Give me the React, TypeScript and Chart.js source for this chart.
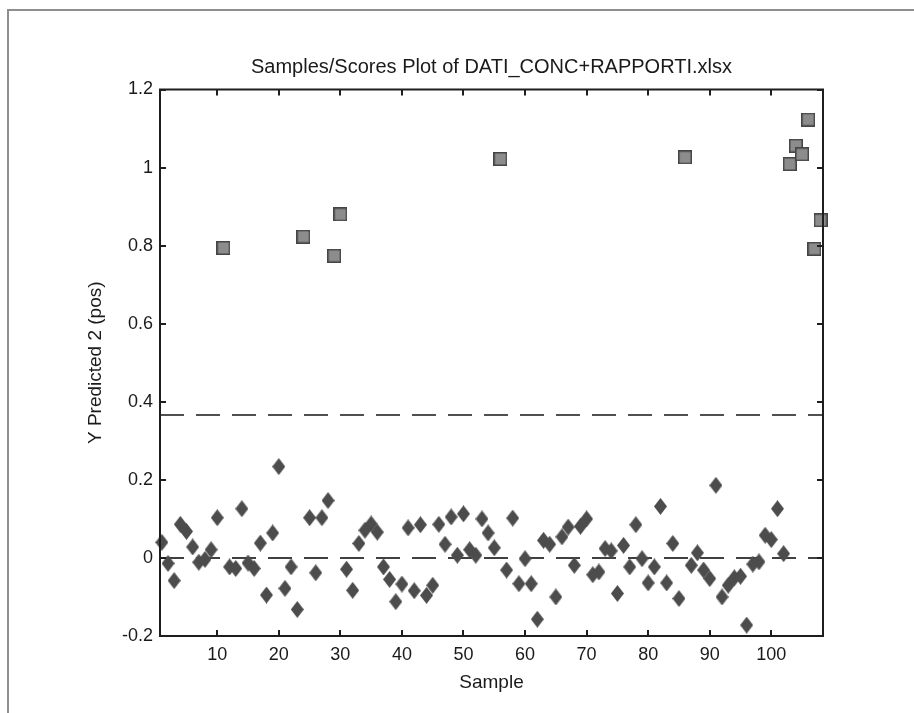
import React, { useEffect, useRef } from "react";
import { Chart, registerables } from "chart.js";

Chart.register(...registerables);

const TITLE = "Samples/Scores Plot of DATI_CONC+RAPPORTI.xlsx";
const X_LABEL = "Sample";
const Y_LABEL = "Y Predicted 2 (pos)";

const X_TICKS = [10, 20, 30, 40, 50, 60, 70, 80, 90, 100];
const Y_TICKS = [-0.2, 0, 0.2, 0.4, 0.6, 0.8, 1.0, 1.2];
const X_MIN = 0.7;
const X_MAX = 108.4;
const Y_MIN = -0.2;
const Y_MAX = 1.2;

// Class 1 samples (diamonds)
const class1Samples = [
  1, 2, 3, 4, 5, 6, 7, 8, 9, 10, 12, 13, 14, 15, 16, 17, 18, 19, 20, 21, 22, 23,
  25, 26, 27, 28, 31, 32, 33, 34, 35, 36, 37, 38, 39, 40, 41, 42, 43, 44, 45, 46,
  47, 48, 49, 50, 51, 52, 53, 54, 55, 57, 58, 59, 60, 61, 62, 63, 64, 65, 66, 67,
  68, 69, 70, 71, 72, 73, 74, 75, 76, 77, 78, 79, 80, 81, 82, 83, 84, 85, 87, 88,
  89, 90, 91, 92, 93, 94, 95, 96, 97, 98, 99, 100, 101, 102,
];
const class1Values = [
  0.04, -0.014, -0.058, 0.086, 0.068, 0.028, -0.011, -0.004, 0.021, 0.103, -0.023, -0.027, 0.126, -0.013, -0.027, 0.038, -0.095, 0.064, 0.234, -0.078, -0.023, -0.132,
  0.103, -0.038, 0.103, 0.147, -0.029, -0.083, 0.037, 0.071, 0.087, 0.066, -0.023, -0.055, -0.112, -0.067, 0.077, -0.084, 0.085, -0.096, -0.07, 0.086,
  0.035, 0.105, 0.007, 0.113, 0.021, 0.007, 0.1, 0.064, 0.026, -0.031, 0.102, -0.066, -0.002, -0.066, -0.157, 0.045, 0.035, -0.1, 0.054, 0.079,
  -0.019, 0.081, 0.1, -0.043, -0.036, 0.024, 0.018, -0.091, 0.032, -0.023, 0.085, -0.002, -0.064, -0.023, 0.132, -0.064, 0.037, -0.104, -0.019, 0.013,
  -0.031, -0.053, 0.186, -0.1, -0.07, -0.051, -0.047, -0.172, -0.016, -0.01, 0.058, 0.047, 0.126, 0.011,
];

// Class 2 samples (squares)
const class2Samples = [11, 24, 29, 30, 56, 86, 103, 104, 105, 106, 107, 108];
const class2Values = [0.794, 0.823, 0.774, 0.88, 1.022, 1.026, 1.009, 1.056, 1.034, 1.123, 0.792, 0.865];

const THRESHOLD = 0.366;
const ZERO_LEVEL = 0;

const FONT = "'Liberation Sans', Arial, sans-serif";
const TEXT_COLOR = "#1a1a1a";

function makeDiamond(): HTMLCanvasElement {
  const c = document.createElement("canvas");
  const w = 13;
  const h = 17;
  c.width = w;
  c.height = h;
  const g = c.getContext("2d")!;
  g.beginPath();
  g.moveTo(w / 2, 0);
  g.lineTo(w, h / 2);
  g.lineTo(w / 2, h);
  g.lineTo(0, h / 2);
  g.closePath();
  g.fillStyle = "#4c4c4c";
  g.fill();
  return c;
}

function makeSquare(): HTMLCanvasElement {
  const c = document.createElement("canvas");
  const s = 14;
  c.width = s;
  c.height = s;
  const g = c.getContext("2d")!;
  g.fillStyle = "#8c8c8c";
  g.fillRect(0, 0, s, s);
  g.strokeStyle = "#454545";
  g.lineWidth = 1.5;
  g.strokeRect(0.75, 0.75, s - 1.5, s - 1.5);
  return c;
}

const framePlugin = {
  id: "matlabFrame",
  beforeDraw(chart: any) {
    const ctx = chart.ctx;
    ctx.save();
    ctx.fillStyle = "#ffffff";
    ctx.fillRect(0, 0, chart.width, chart.height);
    ctx.strokeStyle = "#8e8e8e";
    ctx.lineWidth = 2;
    ctx.beginPath();
    ctx.moveTo(8, chart.height);
    ctx.lineTo(8, 10);
    ctx.lineTo(chart.width, 10);
    ctx.stroke();
    ctx.restore();
  },
  afterDatasetsDraw(chart: any) {
    const { ctx, chartArea } = chart;
    const { left, right, top, bottom } = chartArea;
    const xs = chart.scales.x;
    const ys = chart.scales.y;
    const tl = 6;
    ctx.save();
    ctx.strokeStyle = "#1e1e1e";
    ctx.lineWidth = 2;
    ctx.strokeRect(left, top, right - left, bottom - top);
    ctx.beginPath();
    for (const v of X_TICKS) {
      const px = Math.round(xs.getPixelForValue(v));
      ctx.moveTo(px, bottom);
      ctx.lineTo(px, bottom - tl);
      ctx.moveTo(px, top);
      ctx.lineTo(px, top + tl);
    }
    for (const v of Y_TICKS) {
      const py = Math.round(ys.getPixelForValue(v));
      ctx.moveTo(left, py);
      ctx.lineTo(left + tl, py);
      ctx.moveTo(right, py);
      ctx.lineTo(right - tl, py);
    }
    ctx.stroke();
    ctx.restore();
  },
};

export default function App() {
  const ref = useRef<HTMLCanvasElement | null>(null);

  useEffect(() => {
    if (!ref.current) return;
    const diamond = makeDiamond();
    const square = makeSquare();

    const class1 = class1Samples.map((s, i) => ({ x: s, y: class1Values[i] }));
    const class2 = class2Samples.map((s, i) => ({ x: s, y: class2Values[i] }));

    const chart = new Chart(ref.current, {
      type: "scatter",
      data: {
        datasets: [
          {
            label: "Class 2",
            data: class2,
            pointStyle: square as any,
            pointRadius: 7,
            clip: false as any,
            order: 1,
          },
          {
            label: "Class 1",
            data: class1,
            pointStyle: diamond as any,
            pointRadius: 7,
            clip: false as any,
            order: 2,
          },
          {
            label: "Threshold",
            data: [
              { x: X_MIN, y: THRESHOLD },
              { x: X_MAX, y: THRESHOLD },
            ],
            showLine: true,
            pointRadius: 0,
            borderColor: "#505050",
            borderWidth: 2,
            borderDash: [24, 12],
            order: 3,
          },
          {
            label: "Zero",
            data: [
              { x: X_MIN, y: ZERO_LEVEL },
              { x: X_MAX, y: ZERO_LEVEL },
            ],
            showLine: true,
            pointRadius: 0,
            borderColor: "#404040",
            borderWidth: 2,
            borderDash: [24, 12],
            order: 4,
          },
        ],
      },
      options: {
        responsive: false,
        animation: false,
        events: [],
        layout: { padding: { left: 0, right: 91, top: 0, bottom: 0 } },
        plugins: {
          legend: { display: false },
          tooltip: { enabled: false },
          title: {
            display: true,
            fullSize: false,
            text: TITLE,
            color: TEXT_COLOR,
            font: { family: FONT, size: 20, weight: "normal" },
            padding: { top: 55, bottom: 10.5 },
          },
        },
        scales: {
          x: {
            type: "linear",
            min: X_MIN,
            max: X_MAX,
            grid: { display: false, drawTicks: false },
            border: { display: false },
            afterBuildTicks: (axis: any) => {
              axis.ticks = X_TICKS.map((v) => ({ value: v }));
            },
            afterFit: (axis: any) => {
              axis.height = 77;
            },
            ticks: {
              color: TEXT_COLOR,
              font: { family: FONT, size: 18 },
              padding: 8,
              maxRotation: 0,
              autoSkip: false,
              callback: (v: any) => String(v),
            },
            title: {
              display: true,
              text: X_LABEL,
              color: TEXT_COLOR,
              font: { family: FONT, size: 19 },
              padding: { top: 0, bottom: 18.6 },
            },
          },
          y: {
            type: "linear",
            min: Y_MIN,
            max: Y_MAX,
            grid: { display: false, drawTicks: false },
            border: { display: false },
            afterBuildTicks: (axis: any) => {
              axis.ticks = Y_TICKS.map((v) => ({ value: v }));
            },
            afterFit: (axis: any) => {
              axis.width = 160;
            },
            ticks: {
              color: TEXT_COLOR,
              font: { family: FONT, size: 18 },
              padding: 7,
              autoSkip: false,
              callback: (v: any) => String(Math.round(Number(v) * 10) / 10),
            },
            title: {
              display: true,
              text: Y_LABEL,
              color: TEXT_COLOR,
              font: { family: FONT, size: 19 },
              padding: { top: 84.6, bottom: 0 },
            },
          },
        },
      },
      plugins: [framePlugin],
    });

    return () => chart.destroy();
  }, []);

  return (
    <div style={{ position: "absolute", left: 0, top: 0, width: 914, height: 713, background: "#fff" }}>
      <canvas ref={ref} width={914} height={713} style={{ display: "block", width: 914, height: 713 }} />
    </div>
  );
}
